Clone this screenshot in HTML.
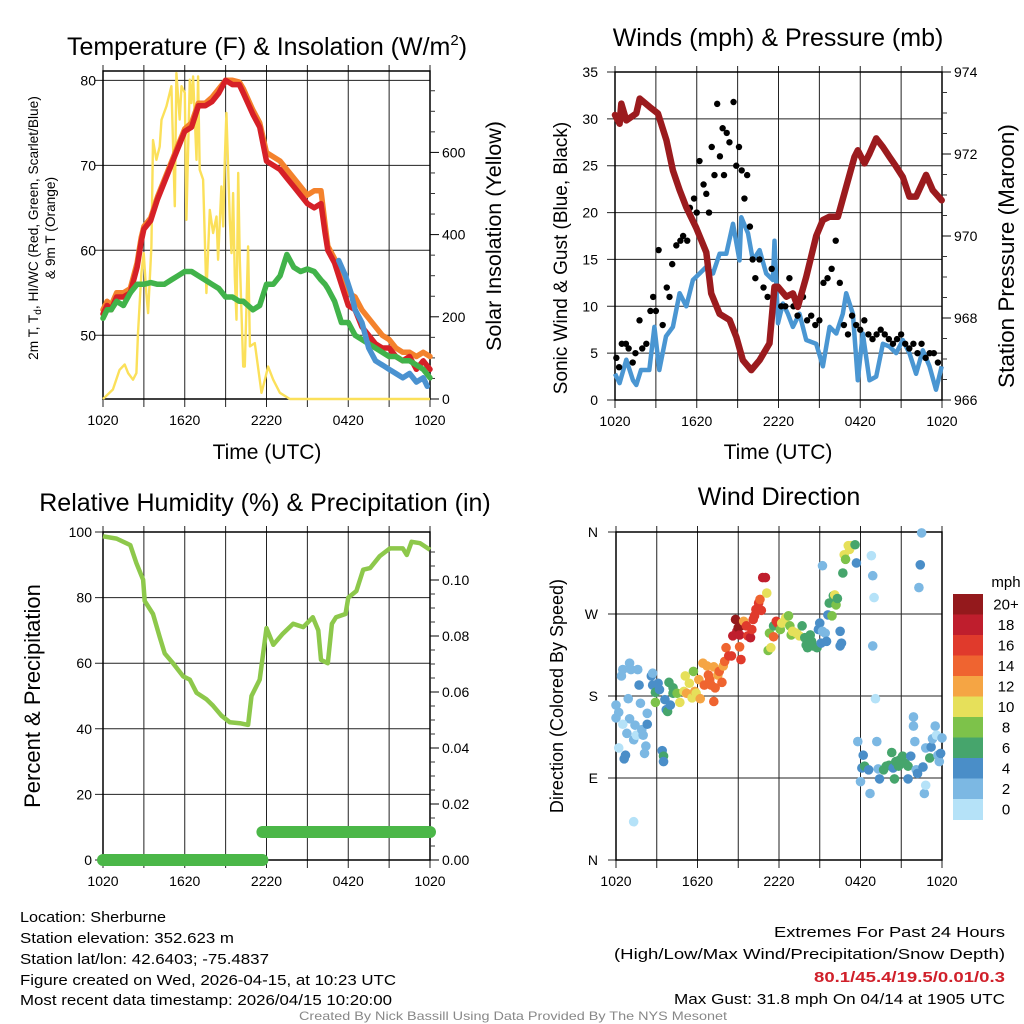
<!DOCTYPE html>
<html><head><meta charset="utf-8"><style>
html,body{margin:0;padding:0;background:#fff}
svg{display:block;font-family:"Liberation Sans",sans-serif}
</style></head><body>
<svg id="s" width="1024" height="1024" viewBox="0 0 1024 1024" xmlns="http://www.w3.org/2000/svg"></svg>
<script>
// ---------- DATA ----------
const xTickLabels=["1020","1620","2220","0420","1020"];
const tHours=[0,0.3,0.6,1,1.5,2,2.5,2.8,3,3.5,4,4.5,5,5.5,6,6.5,7,7.5,8,8.5,9,9.5,10,10.3,11,11.5,12,12.5,13,13.5,14,14.5,15,15.5,16,16.3,16.5,17,17.5,18,18.5,19,19.5,20,20.5,21,21.5,22,22.5,23,23.5,24];
const tempRed=[52.5,53.5,53,54.5,54.5,55,58,61,62.5,63.5,66,68,70,72,74,74.5,77,77,77.5,78.5,80,79.5,79.5,78.5,76,74.5,70.5,70,69.5,68.5,67.5,66.5,65.5,65,65.5,62,60,58.5,56,53.5,53,51,50,49,48.5,48.5,47.5,47,47.5,46,47,46];
const temp9m=[53,54,53.5,55,55,55.5,58.5,61.5,62.8,63.8,66.3,68.3,70.3,72.3,74.3,75,77.3,77.3,78,79,80,80,79.8,79,76.5,75,71.5,71,70.5,69.5,68.5,67.5,66.5,67,67,63,60.5,59,57,55,54.5,53,52,51,50,49.5,48.5,48,48,47.5,48,47.5];
const dewGreen=[52,53,53,54,53.5,55,56,56,56,56.2,56,56,56.5,57,57.5,57.5,57,56.5,56,55.5,54.5,54.5,54,54,53,53.5,56,56,57,59.5,58,57.5,57.8,57.5,56.5,56,55.5,54,51.5,51.5,50,49.5,49,48.5,48,47.5,47.5,47,47,46.5,46,45];
const chillHours=[17.3,17.8,18.2,18.5,19,19.5,20,20.5,21,21.5,22,22.5,23,23.5,23.8];
const chillBlue=[58.8,57,55,53,51.5,48.5,47,46.5,46,45.5,45,45.5,44.5,45,44];
const insHours=[0,0.73,1.22,1.59,1.84,2.2,2.45,2.57,2.82,2.99,3.18,3.31,3.55,3.67,3.92,4.16,4.29,4.65,5.02,5.27,5.39,5.63,5.76,6,6.12,6.37,6.49,6.61,6.86,6.98,7.1,7.35,7.59,7.84,8.08,8.33,8.45,8.69,8.82,8.94,9.06,9.31,9.43,9.55,9.67,9.8,9.92,10.04,10.29,10.41,10.65,10.78,11.14,11.63,11.88,12.12,12.49,12.98,13.71,24];
const insol=[0,23,71,84,63,47,63,160,307,355,258,209,371,630,582,614,679,712,761,469,793,680,761,745,436,777,720,785,582,785,558,534,258,460,404,444,339,517,420,582,696,436,355,501,298,193,550,339,79,79,371,128,136,15,47,79,47,15,0,0];
const presHours=[0,0.34,0.46,0.83,1.56,1.81,2.54,3.15,3.77,4.25,4.74,5.23,5.96,6.7,7.06,7.68,8.41,8.9,9.39,10.0,10.61,11.34,11.71,11.96,12.57,13.06,13.42,14.03,14.77,15.26,15.75,16.36,16.97,17.58,17.82,18.31,18.68,19.17,19.66,20.15,20.64,21.12,21.61,22.1,22.83,23.32,23.98];
const pressure=[972.95,972.74,973.23,972.82,972.99,973.35,973.15,972.99,972.34,971.6,971.12,970.7,970.2,969.6,968.6,968.1,967.95,967.54,966.97,966.73,966.97,967.38,968.76,968.76,968.52,968.6,968.27,969.0,970.0,970.39,970.47,970.47,971.2,971.93,972.09,971.77,972.01,972.38,972.17,971.93,971.69,971.44,970.96,970.96,971.49,971.12,970.87];
const windHours=[0,0.34,0.83,1.32,1.56,1.91,2.52,2.89,3.25,3.74,4.25,4.74,5.23,5.72,6.21,6.7,7.19,7.68,8.17,8.66,9.14,9.27,9.76,10.12,10.61,11.1,11.59,11.71,11.96,12.32,12.69,13.06,13.54,14.03,14.77,15.26,15.75,16.24,16.72,16.97,17.46,17.82,18.19,18.68,19.17,19.66,20.15,20.64,21.12,21.61,22.1,22.59,23.08,23.56,23.98];
const windSpeed=[2.8,1.8,4.3,2.1,1.6,3.2,3.2,7.8,3.2,6.8,7.8,11.4,10,12.8,13.5,14.2,13.5,15.6,15.6,18.8,14.9,19.5,17.8,14.9,16,13.5,12.8,17,8.2,10.3,9.2,7.8,9.2,6.4,6,3.6,7.8,7.1,9.2,11.4,9.2,2.1,7.1,2.1,2.5,6,5.7,5,6.4,5,2.8,5.3,3.6,1.1,3.6];
const gustHours=[0.1,0.3,0.5,0.8,1,1.3,1.5,1.8,2,2.3,2.6,2.8,3,3.2,3.5,3.8,4,4.2,4.5,4.8,5,5.3,5.5,5.8,6,6.2,6.5,6.7,6.9,7.1,7.3,7.5,7.7,7.9,8,8.2,8.4,8.7,8.9,9.1,9.3,9.5,9.7,9.9,10.1,10.3,10.6,10.9,11.2,11.5,11.9,12.2,12.5,12.8,13.1,13.4,13.8,14.1,14.4,14.7,15,15.3,15.6,15.9,16.2,16.5,16.8,17.1,17.4,17.7,18,18.3,18.6,18.9,19.2,19.5,19.8,20.1,20.4,20.7,21,21.3,21.6,21.9,22.2,22.5,22.8,23.1,23.4,23.7];
const gustSpeed=[4.5,3.5,6,6,5.5,4,5,8.5,5.5,6,9.5,11,9.5,16,8,12,11,14.5,16.5,17,17.5,17,20.5,21.5,20,25.5,23,22,20,27,24,31.6,26,29,24,28.5,27.5,31.8,25,27,24.5,21.5,24,18.5,15,13,15,12,11,14,12,10,10,13,10,9,11,8.5,9,8,8.5,12.5,13,14,17,12.5,8,7,9,8,7.5,8.5,7,6.5,7,7.5,7,6.5,6,6.5,7,6,5.5,6,5,6,4.5,5,5,4];
const rhHours=[0,1,2,2.45,2.94,3.06,3.67,4.16,4.53,5.14,5.88,6.37,6.86,7.59,8.08,8.7,9.3,10.04,10.65,10.9,11.5,12.0,12.5,13.2,13.96,14.7,15.4,15.8,16.0,16.5,16.8,17.1,17.8,18.0,18.6,19.1,19.6,20.3,21.06,22.0,22.3,22.65,23.27,24];
const rh=[98.7,98,96,90.5,85.5,79,75,68,63,60,56,55,51,49,47,44,42,41.7,41.2,50,55,70.7,65.6,69,72,71,74,70,61,60,72,74,75,80,82,88.5,89,92.6,95,95,93,97,96.6,94.6];
const precipHours=[0,11.7,11.7,24];
const precip=[0,0,0.01,0.01];
const dirHours=[0,0,0.2,0.4,0.5,0.9,1.0,1.0,1.1,1.4,1.7,1.6,1.8,0.8,1.3,1.5,1.9,2.0,2.3,2.3,2.2,2.1,0.2,0.5,0.7,0.6,1.3,2.6,2.7,2.7,2.9,2.9,3.1,3.2,3.6,3.7,3.8,3.9,4.0,4.2,4.2,3.4,3.5,3.5,4.5,4.7,5.0,5.1,5.2,5.4,5.6,5.7,5.8,5.9,6.1,6.2,6.4,6.5,6.7,6.8,6.9,7.0,7.2,7.3,7.5,7.6,7.8,7.9,8.0,7.2,8.1,8.3,8.5,8.6,8.8,8.9,9.0,9.1,9.1,9.2,9.2,9.4,9.6,9.7,9.9,10.0,10.1,10.2,10.3,10.5,10.6,10.7,10.8,11.0,11.1,11.3,11.2,11.4,11.6,11.6,11.8,11.9,12.1,12.2,12.4,12.5,12.7,12.8,12.9,13.0,13.3,13.5,13.7,13.9,14.0,14.1,14.3,14.4,14.5,14.8,14.9,15.0,15.1,15.2,15.4,15.5,15.6,15.7,15.9,16.0,16.1,16.2,16.3,16.5,16.5,16.6,16.7,16.8,16.9,17.1,17.2,17.3,17.6,17.7,15.2,18.8,18.9,19.0,18.9,19.1,17.8,18.2,18.1,18.3,18.6,18.0,18.7,19.2,19.4,19.3,19.7,19.9,20.1,20.3,20.4,20.5,20.6,20.8,20.9,21.1,21.3,21.5,21.5,21.7,21.9,21.9,22.0,22.1,22.2,22.5,22.4,22.3,22.6,22.7,22.8,22.8,23.1,23.2,23.3,23.5,23.6,23.7,23.8,23.9,24.0];
const dirDeg=[156,170,162,202,209,177,155,216,209,148,192,209,172,139,132,137,143,137,161,149,125,117,123,149,115,111,42,202,205,192,184,173,194,187,176,165,163,195,170,189,183,120,114,108,183,173,185,202,183,194,178,207,185,183,198,177,216,192,213,203,198,192,212,189,203,207,195,213,218,174,233,224,224,246,264,251,255,247,234,220,257,262,257,246,244,253,264,268,275,282,286,274,310,310,293,249,230,233,257,245,262,260,253,260,262,266,268,257,247,251,249,246,257,244,236,233,247,240,235,233,253,260,238,251,249,240,269,282,268,290,291,280,287,251,235,238,315,335,330,345,341,345,346,326,323,334,312,288,235,177,130,115,101,103,99,86,73,130,89,100,99,103,104,118,101,89,108,103,110,114,106,103,89,114,147,157,130,99,95,359,324,299,102,73,82,123,112,124,133,147,137,115,108,117,134];
const dirSpeed=[2,3,2,2,2,2,2,2,2,2,4,2,2,2,2,1,2,2,2,4,2,2,0,1,4,4,0,4,2,4,6,8,4,4,4,4,6,6,4,6,6,4,6,4,8,10,10,10,12,10,10,8,12,10,12,12,12,14,12,14,14,14,12,14,12,14,14,12,14,14,14,16,16,18,20,18,20,18,14,16,20,12,16,16,18,16,16,16,16,16,14,16,18,18,10,8,8,10,6,14,16,16,8,10,10,10,8,8,8,10,10,10,6,6,6,6,6,6,6,6,4,4,4,2,2,4,4,6,8,6,10,8,6,4,4,4,6,10,8,10,10,10,6,4,2,0,2,0,2,0,2,4,4,6,4,2,2,2,4,2,6,6,6,6,4,6,6,6,6,6,6,6,4,4,2,2,2,2,4,2,4,2,4,2,0,2,6,4,2,2,0,2,2,4,2];
const cbLabels=["20+","18","16","14","12","10","8","6","4","2","0"];
const cbColors=["#94191c","#bf1e2d","#e03a2c","#ef6430","#f5a544","#e6e05a","#7dc24a","#46a56c","#4a8ec8","#7cb8e3","#b5e2f8"];

// ---------- HELPERS ----------
const NS="http://www.w3.org/2000/svg";
const S=document.getElementById('s');
function mk(tag,attrs,parent){const e=document.createElementNS(NS,tag);for(const k in attrs)e.setAttribute(k,attrs[k]);(parent||S).appendChild(e);return e;}
function txt(str,x,y,size,anchor,extra,parent){const t=mk('text',Object.assign({x:x,y:y,'font-size':size,'text-anchor':anchor||'middle',fill:'#000'},extra||{}),parent);t.textContent=str;return t;}
function lin(d0,d1,r0,r1){return v=>r0+(v-d0)/(d1-d0)*(r1-r0);}
function path(xs,ys,fx,fy){let d='';for(let i=0;i<xs.length;i++)d+=(i?'L':'M')+fx(xs[i]).toFixed(1)+','+fy(ys[i]).toFixed(1);return d;}

function frame(g,x0,x1,y0,y1,fy,yTicks,yLabels,labX){
  for(let h=0;h<=24;h+=3){const x=x0+(x1-x0)*h/24;
    const l=mk('line',{x1:x,x2:x,y1:y0-6,y2:y1+8,stroke:'#222','stroke-width':1},g);
    
    }
  xTickLabels.forEach((s,i)=>{const t=txt(s,x0+(x1-x0)*i/4,y1+26,14,'middle',{},g);
    
    });
  yTicks.forEach((v,i)=>{const y=fy(v);
    const l=mk('line',{x1:x0-8,x2:x1,y1:y,y2:y,stroke:'#222','stroke-width':1},g);
    
    
    const t=txt(yLabels[i],labX,y+5,14,'end',{},g);
    
    });
  mk('rect',{x:x0,y:y0,width:x1-x0,height:y1-y0,fill:'none',stroke:'#000','stroke-width':1.5},g);
}
function rightAxis(g,x1,fy,ticks,labels,minor){
  minor.forEach(v=>{const y=fy(v);mk('line',{x1:x1,x2:x1+5,y1:y,y2:y,stroke:'#333','stroke-width':1},g);});
  ticks.forEach((v,i)=>{const y=fy(v);mk('line',{x1:x1,x2:x1+9,y1:y,y2:y,stroke:'#000','stroke-width':1},g);
    const t=txt(labels[i],x1+12,y+5,14,'start',{},g);
    
    });
}
function rot(str,x,y,size,g,name){const t=txt(str,x,y,size,'middle',{transform:`rotate(-90 ${x} ${y})`},g);
  
  return t;}

// ---------- PANEL 1: Temperature ----------
(function(){
  const g=mk('g',{});
  
  
  const x0=103,x1=430,y0=71,y1=399;
  const fx=lin(0,24,x0,x1), fy=lin(42.5,81.1,399,71), fi=lin(0,600,399,152.4);
  const tt=txt('',267,55,25,'middle',{},g);tt.innerHTML='Temperature (F) &amp; Insolation (W/m<tspan dy="-10" font-size="15">2</tspan><tspan dy="10">)</tspan>';
  
  
  frame(g,x0,x1,y0,y1,fy,[50,60,70,80],['50','60','70','80'],96);
  rightAxis(g,x1,fi,[0,200,400,600],['0','200','400','600'],[50,100,150,250,300,350,450,500,550,650,700,750]);
  const ins=mk('path',{d:path(insHours,insol,fx,fi),fill:'none',stroke:'#fbe05a','stroke-width':2.4,'stroke-linejoin':'round'},g);
  
  
  const o=mk('path',{d:path(tHours,temp9m,fx,fy),fill:'none',stroke:'#f4822c','stroke-width':5.5,'stroke-linejoin':'round','stroke-linecap':'round'},g);
  
  
  const r=mk('path',{d:path(tHours,tempRed,fx,fy),fill:'none',stroke:'#d62027','stroke-width':5.5,'stroke-linejoin':'round','stroke-linecap':'round'},g);
  
  
  const gr=mk('path',{d:path(tHours,dewGreen,fx,fy),fill:'none',stroke:'#41b34a','stroke-width':5.5,'stroke-linejoin':'round','stroke-linecap':'round'},g);
  
  
  const b=mk('path',{d:path(chillHours,chillBlue,fx,fy),fill:'none',stroke:'#4a92d0','stroke-width':5.5,'stroke-linejoin':'round','stroke-linecap':'round'},g);
  
  
  const xt=txt('Time (UTC)',267,459,21,'middle',{},g);
  
  
  const l1=txt('',38,228,13.7,'middle',{transform:'rotate(-90 38 228)'},g);
  l1.innerHTML='2m T, T<tspan font-size="10" dy="3">d</tspan><tspan dy="-3">, HI/WC (Red, Green, Scarlet/Blue)</tspan>';
  
  
  rot('& 9m T (Orange)',55,228,13.7,g,'y-axis-title-line2');
  rot('Solar Insolation (Yellow)',501,236,21.5,g,'right-axis-title');
})();

// ---------- PANEL 2: Winds ----------
(function(){
  const g=mk('g',{});
  
  
  const x0=615,x1=942,y0=72,y1=400;
  const fx=lin(0,24,x0,x1), fy=lin(0,35,400,72), fp=lin(966,974,400,72);
  const tt=txt('Winds (mph) & Pressure (mb)',778,46,25,'middle',{},g);
  
  
  frame(g,x0,x1,y0,y1,fy,[0,5,10,15,20,25,30,35],['0','5','10','15','20','25','30','35'],598);
  rightAxis(g,x1,fp,[966,968,970,972,974],['966','968','970','972','974'],[966.5,967,967.5,968.5,969,969.5,970.5,971,971.5,972.5,973,973.5]);
  const w=mk('path',{d:path(windHours,windSpeed,fx,fy),fill:'none',stroke:'#4a96d2','stroke-width':4.5,'stroke-linejoin':'round'},g);
  
  
  gustHours.forEach((h,i)=>{const c=mk('circle',{cx:fx(h),cy:fy(gustSpeed[i]),r:3.2,fill:'#000'},g);
    
    });
  const p=mk('path',{d:path(presHours,pressure,fx,fp),fill:'none',stroke:'#9b1b1e','stroke-width':6.5,'stroke-linejoin':'round','stroke-linecap':'round'},g);
  
  
  const xt=txt('Time (UTC)',778,459,21,'middle',{},g);
  
  
  rot('Sonic Wind & Gust (Blue, Black)',567,258,19,g,'y-axis-title');
  rot('Station Pressure (Maroon)',1014,256,22.5,g,'right-axis-title');
})();

// ---------- PANEL 3: RH ----------
(function(){
  const g=mk('g',{});
  
  
  const x0=103,x1=430,y0=532,y1=860;
  const fx=lin(0,24,x0,x1), fy=lin(0,100,860,532), fq=lin(0,0.1,860,580);
  const tt=txt('Relative Humidity (%) & Precipitation (in)',265,511,25,'middle',{},g);
  
  
  frame(g,x0,x1,y0,y1,fy,[0,20,40,60,80,100],['0','20','40','60','80','100'],92);
  rightAxis(g,x1,fq,[0,0.02,0.04,0.06,0.08,0.1],['0.00','0.02','0.04','0.06','0.08','0.10'],[0.005,0.01,0.015,0.025,0.03,0.035,0.045,0.05,0.055,0.065,0.07,0.075,0.085,0.09,0.095,0.105,0.11]);
  const r=mk('path',{d:path(rhHours,rh,fx,fy),fill:'none',stroke:'#8dc84b','stroke-width':4.5,'stroke-linejoin':'round'},g);
  
  
  for(let i=0;i<precipHours.length-1;i++){
    if(precip[i]!==precip[i+1])continue;
    const s=mk('line',{x1:fx(precipHours[i]),x2:fx(precipHours[i+1]),y1:fq(precip[i]),y2:fq(precip[i]),stroke:'#4bb748','stroke-width':12,'stroke-linecap':'round'},g);
    
    
  }
  rot('Percent & Precipitation',40,696,22,g,'y-axis-title');
})();

// ---------- PANEL 4: Wind Direction ----------
(function(){
  const g=mk('g',{});
  
  
  const x0=616,x1=942,y0=532,y1=860;
  const fx=lin(0,24,x0,x1), fy=lin(0,360,860,532);
  const tt=txt('Wind Direction',779,505,25,'middle',{},g);
  
  
  frame(g,x0,x1,y0,y1,fy,[0,90,180,270,360],['N','E','S','W','N'],598);
  dirHours.forEach((h,i)=>{const sp=dirSpeed[i];const idx=Math.max(0,Math.min(10,10-Math.floor(sp/2)));
    const c=mk('circle',{cx:fx(h),cy:fy(dirDeg[i]),r:4.8,fill:cbColors[idx]},g);
    
    });
  rot('Direction (Colored By Speed)',563,696,18,g,'y-axis-title');
  const lt=txt('mph',1006,587,15,'middle',{},g);
  
  
  const bh=20.5;
  cbColors.forEach((c,i)=>{const r=mk('rect',{x:953,y:594+i*bh,width:30,height:bh+0.5,fill:c},g);
    
    
    const t=txt(cbLabels[i],1006,594+i*bh+bh/2+5,15,'middle',{},g);
    
    });
})();

// ---------- FOOTER ----------
(function(){
  const g=mk('g',{});
  
  
  const L=[['Location: Sherburne',922,146],['Station elevation: 352.623 m',943,214],['Station lat/lon: 42.6403; -75.4837',964,249],['Figure created on Wed, 2026-04-15, at 10:23 UTC',985,376],['Most recent data timestamp: 2026/04/15 10:20:00',1005,372]];
  L.forEach(a=>{const t=txt(a[0],20,a[1],15,'start',{textLength:a[2],lengthAdjust:'spacingAndGlyphs'},g);
    
    });
  const R=[['Extremes For Past 24 Hours',937,231,'#000','normal'],['(High/Low/Max Wind/Precipitation/Snow Depth)',959,391,'#000','normal'],['80.1/45.4/19.5/0.01/0.3',982,191,'#d0202a','bold'],['Max Gust: 31.8 mph On 04/14 at 1905 UTC',1004,331,'#000','normal']];
  R.forEach(a=>{const t=txt(a[0],1005,a[1],15,'end',{textLength:a[2],lengthAdjust:'spacingAndGlyphs',fill:a[3],'font-weight':a[4]},g);
    
    });
  const c=txt('Created By Nick Bassill Using Data Provided By The NYS Mesonet',513,1020,12,'middle',{fill:'#888',textLength:428,lengthAdjust:'spacingAndGlyphs'},g);
  
  
})();
</script>
</body></html>
